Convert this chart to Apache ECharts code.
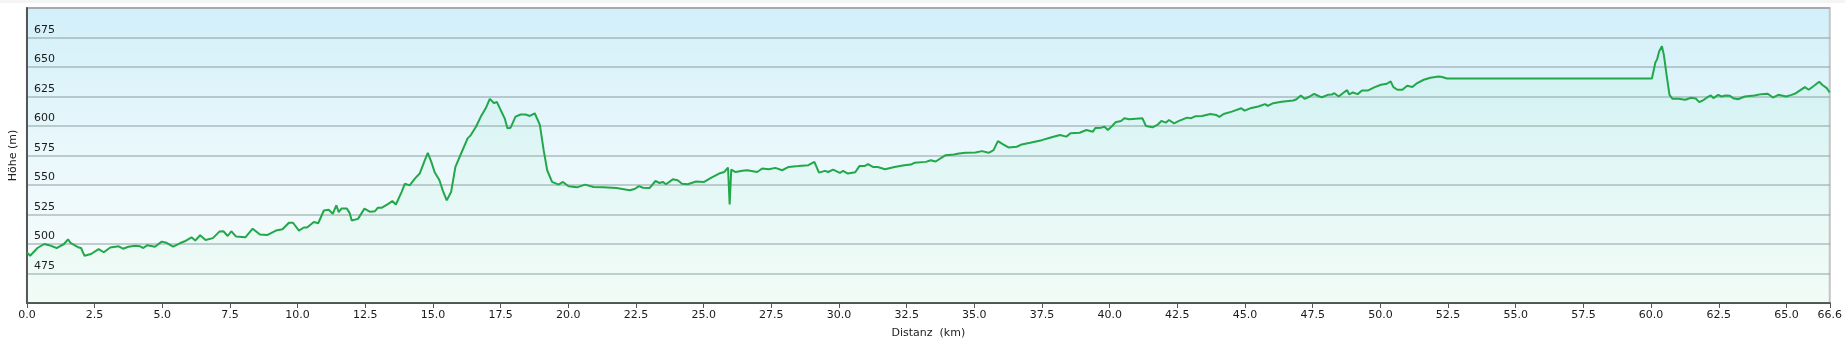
<!DOCTYPE html>
<html>
<head>
<meta charset="utf-8">
<script src="https://cdn.jsdelivr.net/npm/echarts@6/dist/echarts.min.js"></script>
<style>
html,body{margin:0;padding:0;background:#fff;}
#chart{width:1845px;height:344px;}
</style>
</head>
<body>
<div id="chart"></div>
<script>
// Distance (km)
const dist = [
0.0,0.12,0.39,0.64,0.82,1.1,1.37,1.52,1.61,1.92,2.0,2.13,2.37,2.65,2.84,3.08,3.39,3.55,3.75,4.0,
4.18,4.3,4.45,4.73,4.98,5.16,5.4,5.65,5.83,6.08,6.22,6.4,6.6,6.87,7.11,7.26,7.42,7.55,7.73,8.07,
8.34,8.61,8.89,9.2,9.44,9.68,9.83,10.05,10.23,10.35,10.6,10.76,10.97,11.15,11.3,11.43,11.52,11.62,11.82,11.92,
12.0,12.23,12.47,12.68,12.86,12.96,13.1,13.35,13.5,13.63,13.84,13.96,14.14,14.33,14.51,14.69,14.81,14.94,15.06,15.24,
15.36,15.51,15.67,15.83,16.04,16.28,16.4,16.59,16.77,16.95,17.1,17.17,17.26,17.36,17.5,17.65,17.75,17.87,18.05,18.24,
18.42,18.58,18.76,18.95,19.09,19.22,19.4,19.64,19.8,20.01,20.32,20.62,20.93,21.29,21.78,22.27,22.45,22.61,22.76,23.0,
23.22,23.37,23.49,23.61,23.86,24.04,24.2,24.41,24.72,25.02,25.27,25.57,25.76,25.9,25.96,26.02,26.18,26.43,26.61,26.98,
27.16,27.41,27.65,27.9,28.14,28.5,28.87,29.09,29.26,29.48,29.6,29.78,30.03,30.15,30.33,30.6,30.76,30.94,31.07,31.25,
31.43,31.7,32.05,32.41,32.66,32.78,33.21,33.39,33.57,33.94,34.25,34.43,34.67,35.04,35.28,35.53,35.71,35.87,36.05,36.26,
36.57,36.75,37.06,37.49,37.79,38.16,38.4,38.55,38.89,39.14,39.38,39.47,39.69,39.81,39.93,40.09,40.21,40.42,40.54,40.72,
41.21,41.34,41.58,41.76,41.91,42.07,42.19,42.38,42.56,42.86,42.99,43.17,43.41,43.72,43.93,44.05,44.21,44.51,44.86,44.98,
45.19,45.49,45.74,45.84,46.04,46.35,46.78,46.9,47.06,47.2,47.39,47.55,47.75,47.84,48.06,48.21,48.3,48.46,48.61,48.77,
48.85,48.98,49.16,49.32,49.53,49.77,50.02,50.24,50.38,50.48,50.63,50.81,50.99,51.18,51.36,51.6,51.85,52.15,52.28,52.46,
60.03,60.16,60.22,60.3,60.4,60.47,60.58,60.68,60.79,61.01,61.26,61.48,61.65,61.78,61.95,62.08,62.21,62.3,62.48,62.6,
62.75,62.91,63.03,63.21,63.46,63.82,64.07,64.31,64.5,64.7,64.99,65.19,65.35,65.68,65.82,66.02,66.21,66.33,66.49,66.6
];
// Elevation (m)
const elev = [
492.9,490,496.6,500,499,496.6,500,504,501,497,496.6,490,491.5,495.7,493,497,498,496,497.7,498.6,
498,496.6,499,497.7,502,501,497.7,500.6,502.3,505.7,503,507.4,503.4,505,510.5,510.8,506.8,510.8,506.3,505.7,
513,508,507.7,511.4,512.5,518,518,511.4,514,514,518.7,517.6,528.4,529,525.6,532.7,527,530,530,526.4,
519.9,521.3,530,527.3,527.8,530.7,530.7,534,536.4,533.5,544,551,549.7,555.4,559.7,570.5,577.3,569.6,561,554,
545.5,537,544,565.3,576.7,589.5,592.3,599.4,608,615,623,623,619.3,620.5,613.6,606.5,598,598.6,608,609.7,
609.7,608.5,610.8,600.9,579.5,562.5,552.6,550.3,552.6,548.9,548,550.3,548.3,548,547.4,545.5,546.6,549,547.7,547.4,
553.4,551.7,552.6,550.6,554.8,554,551,550.6,553,552.6,556,559.7,561,564.8,533.5,563,561,562,562.5,561,
564,563.4,564.5,562.5,565.3,566,566.8,569.6,560.5,562,561,563,560.2,562,559.7,560.8,566.2,566,567.6,565.3,
565.3,563.4,565.3,566.8,567.3,568.8,569.6,571,569.9,575.3,575.9,576.7,577.3,577.6,578.7,577.3,579.5,587.2,584.7,581.8,
582.4,584.4,585.8,588,590,592.3,591,593.8,594.3,596.6,595.2,598.3,598.6,599.4,596.6,600,603.1,604.3,606.5,605.7,
606.5,600,598.9,600.9,604.3,602.8,605.1,602.3,604.3,607.1,606.5,608.3,608.5,610.2,609.4,607.7,610.2,612.2,615,613,
615,616.5,618.5,617,619.3,620.5,621.6,622.7,625.9,623,625,627.3,625,624.4,626.4,626.7,627.8,625,627.8,630.4,
626.7,628.4,627,630,630,632.7,635,635.8,637.8,633,630.7,630.7,634.1,633,636.4,639.2,640.9,642,641.5,640.3,
640.3,654,656.3,663.4,667.6,660.5,642,626.4,623,623,622.2,623.9,623.3,620.2,622.2,624.4,625.9,623.6,626.4,625,
625.9,625.6,623.6,622.7,625,625.9,627,627.3,624.1,626.4,625,626.4,627.8,633,630.7,634.1,637.5,634.7,632.1,628.4
];
const xMin = 0, xMax = 66.6, xStep = 2.5;
const yMin = 450, yMax = 700, yStep = 25;
const xName = 'Distanz  (km)';
const yName = 'Höhe (m)';

const chart = echarts.init(document.getElementById('chart'), null, {renderer: 'canvas'});
const seriesData = dist.map((d, i) => [d, elev[i]]);
const font = 'DejaVu Sans';

chart.setOption({
  animation: false,
  graphic: [{
    type: 'rect', left: 0, top: 0, z: -10,
    shape: {width: 1845, height: 3},
    style: {fill: '#f4f4f4'}
  }],
  grid: {
    show: true, left: 23, right: 6, top: 8, bottom: 41,
    borderColor: '#c4c4c4', borderWidth: 2,
    backgroundColor: new echarts.graphic.LinearGradient(0, 0, 0, 1, [
      {offset: 0, color: '#d2eff9'},
      {offset: 0.5, color: '#eaf8fc'},
      {offset: 1, color: '#f8fdfb'}
    ])
  },
  xAxis: {
    type: 'value', min: xMin, max: xMax, interval: xStep,
    name: xName, nameLocation: 'middle', nameGap: 25,
    nameTextStyle: {fontFamily: font, fontSize: 11, color: '#222'},
    axisLine: {show: true, lineStyle: {color: '#555', width: 2}},
    axisTick: {show: true, length: 5, lineStyle: {color: '#555', width: 1}},
    splitLine: {show: false},
    axisLabel: {
      fontFamily: font, fontSize: 11, color: '#1a1a1a', margin: 7,
      formatter: v => v.toFixed(1)
    }
  },
  yAxis: {
    type: 'value', min: yMin, max: yMax, interval: yStep,
    name: yName, nameLocation: 'middle', nameGap: 6, nameRotate: 90,
    nameTextStyle: {fontFamily: font, fontSize: 11, color: '#222'},
    axisLine: {show: true, lineStyle: {color: '#555', width: 2}},
    axisTick: {show: false},
    splitLine: {show: true, lineStyle: {color: 'rgba(120,135,140,0.4)', width: 2}},
    axisLabel: {
      inside: true, margin: 7, fontFamily: font, fontSize: 11, color: '#1a1a1a',
      verticalAlign: 'bottom', padding: [0, 0, 2, 0],
      formatter: v => (v === yMin || v === yMax) ? '' : String(v)
    }
  },
  series: [{
    type: 'line',
    data: seriesData,
    symbol: 'none',
    lineStyle: {color: '#22a84a', width: 2},
    areaStyle: {
      origin: 'start',
      color: new echarts.graphic.LinearGradient(0, 0, 0, 1, [
        {offset: 0, color: 'rgba(90,225,170,0.12)'},
        {offset: 1, color: 'rgba(120,230,150,0.07)'}
      ])
    },
    z: 3
  }]
});
</script>
</body>
</html>
